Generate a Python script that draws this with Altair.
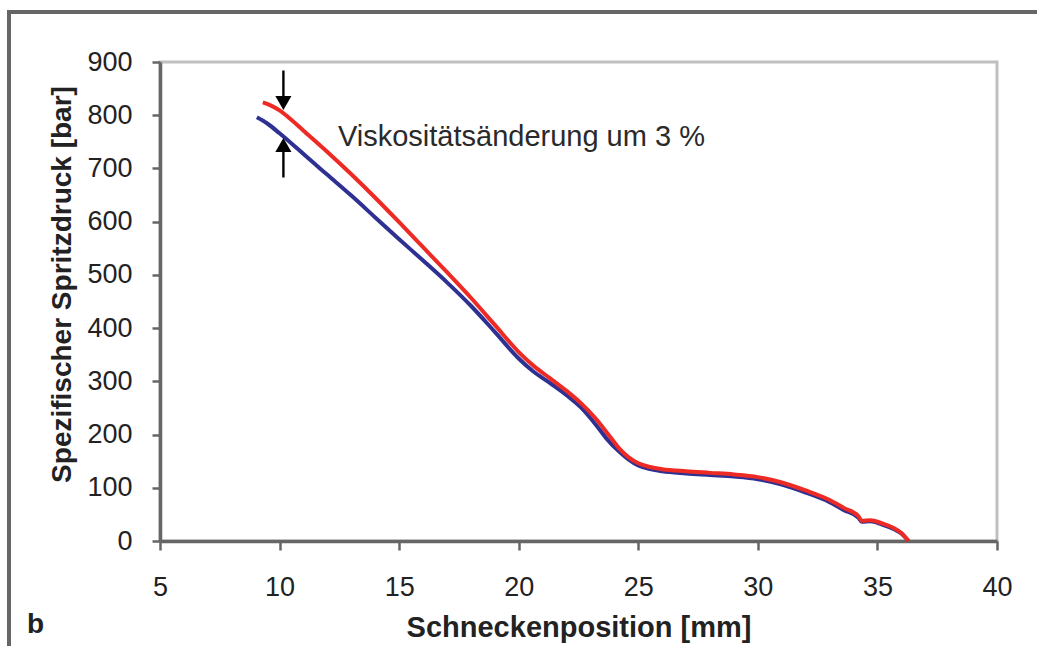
import altair as alt
import pandas as pd

# ---- data ----
x_blue = [9.05, 9.5, 10.0, 10.5, 11.0, 12.0, 13.0, 14.0, 15.0, 16.0, 17.0, 18.0, 19.0, 20.0,
          20.6, 21.3, 22.0, 22.6, 23.2, 23.7, 24.2, 24.6, 25.0, 25.5, 26.0, 27.0, 28.0, 29.0,
          30.0, 31.0, 32.0, 33.0, 33.6, 34.2, 34.35, 34.7, 35.2, 35.7, 36.0, 36.3]
y_blue = [796, 784, 766, 747, 727, 688, 649, 608, 567, 527, 486, 442, 393, 343,
          319, 297, 274, 251, 220, 191, 168, 153, 142, 135, 131, 127, 124, 121,
          116, 106, 91, 73, 58, 44, 36, 37, 31, 22, 14, 0]

x_red = [9.3, 9.6, 10.0, 10.5, 11.0, 12.0, 13.0, 14.0, 15.0, 16.0, 17.0, 18.0, 19.0, 20.0,
         20.6, 21.3, 22.0, 22.6, 23.2, 23.7, 24.2, 24.6, 25.0, 25.5, 26.0, 27.0, 28.0, 29.0,
         30.0, 31.0, 32.0, 33.0, 33.6, 34.2, 34.35, 34.7, 35.2, 35.7, 36.0, 36.3]
y_red = [824, 819, 809, 791, 771, 731, 689, 645, 599, 552, 505, 457, 406, 355,
         330, 306, 282, 259, 231, 203, 174, 157, 146, 139, 135, 131, 128, 125,
         120, 110, 95, 77, 62, 47, 38, 39, 33, 24, 15, 0]

series_names = ["Referenz", "Viskosität +3 %"]
series_colors = ["#2e3192", "#ee2a24"]

x_ticks = [5, 10, 15, 20, 25, 30, 35, 40]
y_ticks = [0, 100, 200, 300, 400, 500, 600, 700, 800, 900]

arrow_x = 10.16
arrow_top = [884, 823]      # line start, arrowhead centre (pointing down)
arrow_bottom = [744, 683]   # arrowhead centre (pointing up), line end

note_text = "Viskositätsänderung um 3 %"
note_x, note_y = 12.44, 742

x_title = "Schneckenposition [mm]"
y_title = "Spezifischer Spritzdruck [bar]"
panel_label = "b"

FONT = "Liberation Sans, Arial, Helvetica, sans-serif"

# ---- tables ----
lines_df = pd.concat([
    pd.DataFrame({"x": x_blue, "y": y_blue, "s": series_names[0], "o": range(len(x_blue))}),
    pd.DataFrame({"x": x_red, "y": y_red, "s": series_names[1], "o": range(len(x_red))}),
])

xs = alt.Scale(domain=[5, 40], nice=False, zero=False)
ys = alt.Scale(domain=[0, 900], nice=False)

lines = alt.Chart(lines_df).mark_line(strokeWidth=4, interpolate="monotone").encode(
    x=alt.X("x:Q", scale=xs, axis=alt.Axis(
        values=x_ticks, title=x_title, grid=False, labelFlush=False, labelOverlap=False,
        tickSize=9, labelPadding=24, titleY=95, titleBaseline="alphabetic",
        titleFontSize=29)),
    y=alt.Y("y:Q", scale=ys, axis=alt.Axis(
        values=y_ticks, title=y_title, grid=False, labelFlush=False, labelOverlap=False,
        tickSize=8, labelPadding=20, titleX=-90, titleY=222, titleBaseline="alphabetic",
        titleFontSize=28)),
    color=alt.Color("s:N", scale=alt.Scale(domain=series_names, range=series_colors), legend=None),
    order="o:Q",
)

arrow_df = pd.DataFrame({
    "x": [arrow_x, arrow_x],
    "y1": [arrow_top[0], arrow_bottom[0]],
    "y2": [arrow_top[1], arrow_bottom[1]],
})
arrow_lines = alt.Chart(arrow_df).mark_rule(color="#000000", strokeWidth=2.4).encode(
    x=alt.X("x:Q", scale=xs), y=alt.Y("y1:Q", scale=ys), y2="y2:Q")

heads_df = pd.DataFrame({
    "x": [arrow_x, arrow_x],
    "y": [arrow_top[1], arrow_bottom[0]],
    "shape": ["triangle-down", "triangle-up"],
})
heads = alt.Chart(heads_df).mark_point(filled=True, color="#000000", size=260, opacity=1).encode(
    x=alt.X("x:Q", scale=xs), y=alt.Y("y:Q", scale=ys),
    shape=alt.Shape("shape:N", scale=None))

note_df = pd.DataFrame({"x": [note_x], "y": [note_y], "t": [note_text]})
note = alt.Chart(note_df).mark_text(
    align="left", baseline="alphabetic", fontSize=29, font=FONT, color="#2a2a2a").encode(
    x=alt.X("x:Q", scale=xs), y=alt.Y("y:Q", scale=ys), text="t:N")

one = pd.DataFrame({"t": [panel_label]})
label_b = alt.Chart(one).mark_text(
    align="left", baseline="alphabetic", fontSize=28, fontWeight="bold", font=FONT,
    color="#222222").encode(x=alt.value(-133), y=alt.value(571), text="t:N")

frame_left = alt.Chart(one).mark_rule(color="#666666", strokeWidth=4).encode(
    x=alt.value(-151), y=alt.value(-50), y2=alt.value(700))
frame_top = alt.Chart(one).mark_rule(color="#666666", strokeWidth=4).encode(
    x=alt.value(-153), x2=alt.value(1000), y=alt.value(-50))

chart = alt.layer(lines, arrow_lines, heads, note, label_b, frame_left, frame_top).properties(
    width=837, height=479,
    autosize=alt.AutoSizeParams(type="none"),
    padding={"left": 160, "top": 62, "right": 40, "bottom": 105},
    background="white",
).configure_view(
    stroke="#c0c0c0", strokeWidth=3
).configure_axis(
    labelFont=FONT, titleFont=FONT, labelFontSize=27, labelColor="#222222",
    titleColor="#222222", titleFontWeight="bold",
    domainColor="#666666", domainWidth=3.5, tickColor="#666666", tickWidth=2.5,
)

chart.save("out.html", embed_options={"renderer": "svg", "actions": False})
